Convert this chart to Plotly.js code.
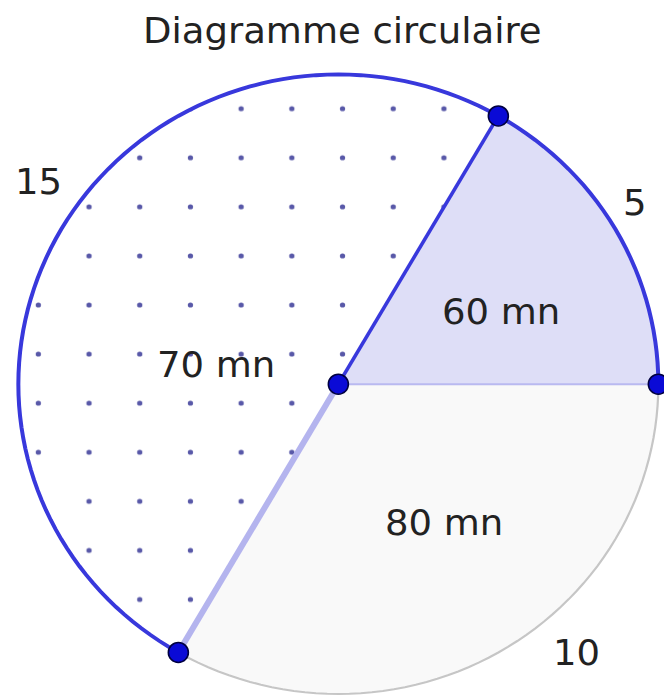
<!DOCTYPE html>
<html>
<head>
<meta charset="utf-8">
<script src="https://cdn.plot.ly/plotly-3.0.1.min.js"></script>
<style>
  html, body { margin: 0; padding: 0; width: 664px; height: 695px; overflow: hidden; background: #ffffff; }
  #chart { position: absolute; transform-origin: 0 0; }
</style>
</head>
<body>
<div id="chart"></div>
<script>
// ---- data ----
const chartTitle = 'Diagramme circulaire';
const categories = ['60 mn', '70 mn', '80 mn'];
const counts = [5, 15, 10];

// ---- label placement around the pie: [angle in degrees (ccw from east), radius as fraction of R] ----
const categoryPlace = [[24.7, 0.561], [170.6, 0.386], [306.5, 0.556]];
const countPlace = [[32.3, 1.095], [145.2, 1.141], [310.6, 1.142]];

// ---- styles ----
const sliceColors = ['#dedef7', '#ffffff', '#f9f9f9'];
const slicePatterns = ['', '.', ''];
const arcStyles = [
  { color: '#3838dc', width: 4 },
  { color: '#3838dc', width: 4 },
  { color: '#c6c6c6', width: 2.2 }
];
// radius drawn at the start angle of each slice
const edgeStyles = [
  { color: '#b9b9f0', width: 2 },
  { color: '#3838dc', width: 3.6 },
  { color: '#b4b4ee', width: 6 }
];
const FONT = 'DejaVu Sans, Liberation Sans, Arial, sans-serif';
const TEXT_COLOR = '#222222';

// ---- frame geometry (layout pixels) ----
const W = 664, H = 740, R = 320;
const OFF_X = 12.65, OFF_Y = -13.7, SY = 0.968;   // placement of the plot on the page, vertical squash
const cx = 338 - OFF_X;
const cy = (384.5 - OFF_Y) / SY;

const el = document.getElementById('chart');
el.style.left = OFF_X + 'px';
el.style.top = OFF_Y + 'px';
el.style.width = W + 'px';
el.style.height = H + 'px';
el.style.transform = 'scaleY(' + SY + ')';

// polar position (degrees, fraction of R) -> paper coordinates
function polar(deg, r) {
  const a = deg * Math.PI / 180;
  return [(cx + r * R * Math.cos(a)) / W, 1 - (cy - r * R * Math.sin(a)) / H];
}
// page pixel -> paper coordinates
function page(x, y) {
  return [(x - OFF_X) / W, 1 - ((y - OFF_Y) / SY) / H];
}

// slice boundaries from the counts (first slice starts at 3 o'clock, going counterclockwise)
const total = counts.reduce((s, v) => s + v, 0);
const bounds = [0];
counts.forEach((v, i) => bounds.push(bounds[i] + 360 * v / total));

function arcPath(a0, a1) {
  const n = Math.max(8, Math.ceil((a1 - a0) / 2));
  let d = '';
  for (let k = 0; k <= n; k++) {
    const p = polar(a0 + (a1 - a0) * k / n, 1);
    d += (k === 0 ? 'M' : 'L') + p[0].toFixed(5) + ',' + p[1].toFixed(5);
  }
  return d;
}

const shapes = [];
counts.forEach((v, i) => {
  shapes.push({
    type: 'path', xref: 'paper', yref: 'paper', layer: 'above',
    path: arcPath(bounds[i], bounds[i + 1]),
    line: arcStyles[i], fillcolor: 'rgba(0,0,0,0)'
  });
});
counts.forEach((v, i) => {
  const c = polar(0, 0), p = polar(bounds[i], 1);
  shapes.push({
    type: 'line', xref: 'paper', yref: 'paper', layer: 'above',
    x0: c[0], y0: c[1], x1: p[0], y1: p[1],
    line: edgeStyles[i]
  });
});
// points: centre and every slice boundary on the circle
const pointAngles = [null].concat(bounds.slice(0, counts.length));
pointAngles.forEach(a => {
  const p = a === null ? polar(0, 0) : polar(a, 1);
  shapes.push({
    type: 'circle', xref: 'paper', yref: 'paper', layer: 'above',
    xsizemode: 'pixel', ysizemode: 'pixel', xanchor: p[0], yanchor: p[1],
    x0: -10, x1: 10, y0: -10.3, y1: 10.3,
    fillcolor: '#0a0ad6', line: { color: '#000040', width: 1.6 }
  });
});

const annotations = [];
categories.forEach((c, i) => {
  const p = polar(categoryPlace[i][0], categoryPlace[i][1]);
  annotations.push({ text: c, x: p[0], y: p[1], xref: 'paper', yref: 'paper',
    showarrow: false, xanchor: 'center', yanchor: 'middle',
    font: { family: FONT, size: 37, color: TEXT_COLOR } });
});
counts.forEach((v, i) => {
  const p = polar(countPlace[i][0], countPlace[i][1]);
  annotations.push({ text: String(v), x: p[0], y: p[1], xref: 'paper', yref: 'paper',
    showarrow: false, xanchor: 'center', yanchor: 'middle',
    font: { family: FONT, size: 37, color: TEXT_COLOR } });
});

const titlePos = page(342, 31);

const pie = {
  type: 'pie',
  labels: categories,
  values: counts,
  sort: false,
  direction: 'counterclockwise',
  // plotly measures rotation clockwise from 12 o'clock; place the first slice's start at 3 o'clock
  rotation: 90 - 360 * counts[0] / total,
  domain: { x: [(cx - R) / W, (cx + R) / W], y: [1 - (cy + R) / H, 1 - (cy - R) / H] },
  marker: {
    colors: sliceColors,
    line: { width: 0 },
    pattern: { shape: slicePatterns, fillmode: 'overlay', fgcolor: '#5858a8', fgopacity: 1, size: 50.7, solidity: 0.0085 }
  },
  textinfo: 'none',
  hoverinfo: 'none',
  showlegend: false
};

const layout = {
  width: W, height: H,
  margin: { l: 0, r: 0, t: 0, b: 0 },
  paper_bgcolor: '#ffffff',
  showlegend: false,
  title: {
    text: chartTitle, x: titlePos[0], y: titlePos[1], xanchor: 'center', yanchor: 'middle',
    font: { family: FONT, size: 37, color: TEXT_COLOR }
  },
  shapes: shapes,
  annotations: annotations
};

Plotly.newPlot(el, [pie], layout, { staticPlot: true, displayModeBar: false });
</script>
</body>
</html>
